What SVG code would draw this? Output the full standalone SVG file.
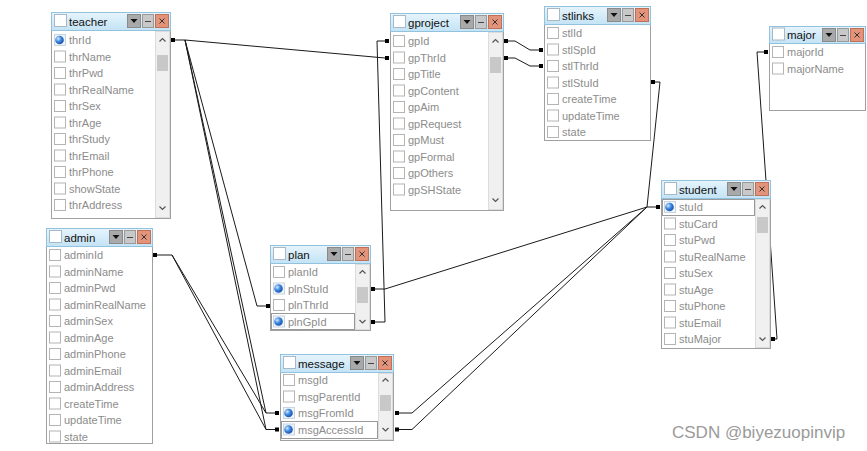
<svg xmlns="http://www.w3.org/2000/svg" xmlns:xlink="http://www.w3.org/1999/xlink" width="867" height="451" viewBox="0 0 867 451">
<style>
.body{fill:#fff;stroke:#a0a0a0}
.tb{fill:url(#tg);stroke:#93c2de}
.tcb{fill:#fff;stroke:#a8b8c4}
.cb{fill:#fff;stroke:#b4b4b4}
.tt{font-family:"Liberation Sans",Arial,sans-serif;font-size:11.5px;fill:#111}
.ft{font-family:"Liberation Sans",Arial,sans-serif;font-size:11px;fill:#8c8c8c}
.sb{fill:#f0f0f0;stroke:#dcdcdc}
.th{fill:#c8c8c8}
.chev{fill:none;stroke:#555;stroke-width:1.2}
.foc{fill:none;stroke:#333;stroke-dasharray:1,1}
.cn path{fill:none;stroke:#1a1a1a;stroke-width:1}
.mk{fill:#000}
.wm{font-family:"Liberation Sans",Arial,sans-serif;font-size:17px;fill:#9a9a9a}
</style>
<defs>
<linearGradient id="tg" x1="0" y1="0" x2="0" y2="1"><stop offset="0" stop-color="#e6f4fc"/><stop offset="1" stop-color="#c3e3f5"/></linearGradient>
<radialGradient id="kg" cx="0.35" cy="0.35" r="0.7"><stop offset="0" stop-color="#d6ebff"/><stop offset="0.5" stop-color="#3a86e0"/><stop offset="1" stop-color="#1a4fa8"/></radialGradient>
<g id="btns">
<rect x="0.5" y="0.5" width="13" height="13" fill="#a9a9a9" stroke="#8a8a8a"/>
<path d="M3.5,5 H10.5 L7,9 Z" fill="#111"/>
<rect x="15.5" y="0.5" width="11" height="13" fill="#c8c8c8" stroke="#9a9a9a"/>
<path d="M18,7.5 H24" stroke="#444"/>
<rect x="28.5" y="0.5" width="13" height="13" fill="#e3937a" stroke="#c07055"/>
<path d="M32.5,4.5 L37.5,9.5 M37.5,4.5 L32.5,9.5" stroke="#333"/>
</g>
<rect id="cb" class="cb" x="3.5" y="-5.5" width="11" height="11"/>
<g id="key"><rect x="3.5" y="-5.5" width="11" height="11" fill="#eef4fb" stroke="#c8d4e0"/><circle cx="8.5" cy="0" r="4.3" fill="url(#kg)"/></g>
<path id="up" class="chev" d="M-3,1.5 L0,-1.5 L3,1.5"/>
<path id="dn" class="chev" d="M-3,-1.5 L0,1.5 L3,-1.5"/>
<rect id="tcb" class="tcb" x="3.5" y="2.5" width="12" height="12"/>
</defs>

<g id="connectors" class="cn">
<path d="M175,40 H185 L385,58"/>
<path d="M185,40 L257,306 H266"/>
<path d="M185,40 L266,413 H275"/>
<path d="M185,40 L266,429.5 H275"/>
<path d="M157,255 H172 L266,413"/>
<path d="M172,255 L266,429.5"/>
<path d="M375,322 H385 L377,41 H385"/>
<path d="M375,289 H385 L647,207 H656"/>
<path d="M399,413 H412 L647,207"/>
<path d="M399,429.5 H412 L647,207"/>
<path d="M508,41 H515 L530,50 H539"/>
<path d="M508,58 H515 L530,66 H539"/>
<path d="M655,82 H660 L647,207"/>
<path d="M764,52 H757 L777,339 H775"/>
<g class="mk">
<rect x="171" y="38" width="4" height="4"/>
<rect x="385" y="56" width="4" height="4"/>
<rect x="385" y="39" width="4" height="4"/>
<rect x="266" y="304" width="4" height="4"/>
<rect x="275" y="411" width="4" height="4"/>
<rect x="275" y="427.5" width="4" height="4"/>
<rect x="153" y="253" width="4" height="4"/>
<rect x="371" y="287" width="4" height="4"/>
<rect x="371" y="320" width="4" height="4"/>
<rect x="395" y="411" width="4" height="4"/>
<rect x="395" y="427.5" width="4" height="4"/>
<rect x="504" y="39" width="4" height="4"/>
<rect x="504" y="56" width="4" height="4"/>
<rect x="539" y="48" width="4" height="4"/>
<rect x="539" y="64" width="4" height="4"/>
<rect x="651" y="80" width="4" height="4"/>
<rect x="656" y="205" width="4" height="4"/>
<rect x="771" y="337" width="4" height="4"/>
<rect x="764" y="50" width="4" height="4"/>
</g>
</g>

<g id="teacher" transform="translate(51,12)">
<rect class="body" x="0.5" y="0.5" width="119" height="206"/>
<rect class="tb" x="0.5" y="0.5" width="119" height="18"/>
<use href="#tcb"/>
<text class="tt" x="18" y="13.5">teacher</text>
<use href="#btns" x="76" y="2"/>
<rect class="sb" x="104.5" y="19.5" width="14" height="186"/>
<use href="#up" x="111.5" y="28"/>
<rect class="th" x="106" y="43" width="11" height="16"/>
<use href="#dn" x="111.5" y="196"/>
<g transform="translate(0,28)"><use href="#key"/><text class="ft" x="18" y="4">thrId</text></g>
<g transform="translate(0,44.5)"><use href="#cb"/><text class="ft" x="18" y="4">thrName</text></g>
<g transform="translate(0,61)"><use href="#cb"/><text class="ft" x="18" y="4">thrPwd</text></g>
<g transform="translate(0,77.5)"><use href="#cb"/><text class="ft" x="18" y="4">thrRealName</text></g>
<g transform="translate(0,94)"><use href="#cb"/><text class="ft" x="18" y="4">thrSex</text></g>
<g transform="translate(0,110.5)"><use href="#cb"/><text class="ft" x="18" y="4">thrAge</text></g>
<g transform="translate(0,127)"><use href="#cb"/><text class="ft" x="18" y="4">thrStudy</text></g>
<g transform="translate(0,143.5)"><use href="#cb"/><text class="ft" x="18" y="4">thrEmail</text></g>
<g transform="translate(0,160)"><use href="#cb"/><text class="ft" x="18" y="4">thrPhone</text></g>
<g transform="translate(0,176.5)"><use href="#cb"/><text class="ft" x="18" y="4">showState</text></g>
<g transform="translate(0,193)"><use href="#cb"/><text class="ft" x="18" y="4">thrAddress</text></g>
</g>

<g id="admin" transform="translate(46,228)">
<rect class="body" x="0.5" y="0.5" width="106" height="215"/>
<rect class="tb" x="0.5" y="0.5" width="106" height="18"/>
<use href="#tcb"/>
<text class="tt" x="18" y="13.5">admin</text>
<use href="#btns" x="63" y="2"/>
<g transform="translate(0,27)"><use href="#cb"/><text class="ft" x="18" y="4">adminId</text></g>
<g transform="translate(0,43.5)"><use href="#cb"/><text class="ft" x="18" y="4">adminName</text></g>
<g transform="translate(0,60)"><use href="#cb"/><text class="ft" x="18" y="4">adminPwd</text></g>
<g transform="translate(0,76.5)"><use href="#cb"/><text class="ft" x="18" y="4">adminRealName</text></g>
<g transform="translate(0,93)"><use href="#cb"/><text class="ft" x="18" y="4">adminSex</text></g>
<g transform="translate(0,109.5)"><use href="#cb"/><text class="ft" x="18" y="4">adminAge</text></g>
<g transform="translate(0,126)"><use href="#cb"/><text class="ft" x="18" y="4">adminPhone</text></g>
<g transform="translate(0,142.5)"><use href="#cb"/><text class="ft" x="18" y="4">adminEmail</text></g>
<g transform="translate(0,159)"><use href="#cb"/><text class="ft" x="18" y="4">adminAddress</text></g>
<g transform="translate(0,175.5)"><use href="#cb"/><text class="ft" x="18" y="4">createTime</text></g>
<g transform="translate(0,192)"><use href="#cb"/><text class="ft" x="18" y="4">updateTime</text></g>
<g transform="translate(0,208.5)"><use href="#cb"/><text class="ft" x="18" y="4">state</text></g>
</g>

<g id="plan" transform="translate(270,245)">
<rect class="body" x="0.5" y="0.5" width="100" height="85"/>
<rect class="tb" x="0.5" y="0.5" width="100" height="18"/>
<use href="#tcb"/>
<text class="tt" x="18" y="13.5">plan</text>
<use href="#btns" x="57" y="2"/>
<rect class="sb" x="85.5" y="19.5" width="14" height="65"/>
<use href="#up" x="92.5" y="27"/>
<rect class="th" x="87" y="42" width="11" height="16"/>
<use href="#dn" x="92.5" y="76.5"/>
<g transform="translate(0,27)"><use href="#cb"/><text class="ft" x="18" y="4">planId</text></g>
<g transform="translate(0,43.5)"><use href="#key"/><text class="ft" x="18" y="4">plnStuId</text></g>
<g transform="translate(0,60)"><use href="#cb"/><text class="ft" x="18" y="4">plnThrId</text></g>
<g transform="translate(0,76.5)"><use href="#key"/><text class="ft" x="18" y="4">plnGpId</text></g>
<rect class="foc" x="1.5" y="68.5" width="83" height="16"/>
</g>

<g id="message" transform="translate(280,354)">
<rect class="body" x="0.5" y="0.5" width="113" height="86"/>
<rect class="tb" x="0.5" y="0.5" width="113" height="18"/>
<use href="#tcb"/>
<text class="tt" x="18" y="13.5">message</text>
<use href="#btns" x="70" y="2"/>
<rect class="sb" x="98.5" y="19.5" width="14" height="66"/>
<use href="#up" x="105.5" y="26"/>
<rect class="th" x="100" y="41" width="11" height="16"/>
<use href="#dn" x="105.5" y="75.5"/>
<g transform="translate(0,26)"><use href="#cb"/><text class="ft" x="18" y="4">msgId</text></g>
<g transform="translate(0,42.5)"><use href="#cb"/><text class="ft" x="18" y="4">msgParentId</text></g>
<g transform="translate(0,59)"><use href="#key"/><text class="ft" x="18" y="4">msgFromId</text></g>
<g transform="translate(0,75.5)"><use href="#key"/><text class="ft" x="18" y="4">msgAccessId</text></g>
<rect class="foc" x="1.5" y="67.5" width="96" height="17"/>
</g>

<g id="gproject" transform="translate(390,13)">
<rect class="body" x="0.5" y="0.5" width="113" height="197"/>
<rect class="tb" x="0.5" y="0.5" width="113" height="18"/>
<use href="#tcb"/>
<text class="tt" x="18" y="13.5">gproject</text>
<use href="#btns" x="70" y="2"/>
<rect class="sb" x="98.5" y="19.5" width="14" height="177"/>
<use href="#up" x="105.5" y="28"/>
<rect class="th" x="100" y="44" width="11" height="16"/>
<use href="#dn" x="105.5" y="187"/>
<g transform="translate(0,28)"><use href="#cb"/><text class="ft" x="18" y="4">gpId</text></g>
<g transform="translate(0,44.5)"><use href="#cb"/><text class="ft" x="18" y="4">gpThrId</text></g>
<g transform="translate(0,61)"><use href="#cb"/><text class="ft" x="18" y="4">gpTitle</text></g>
<g transform="translate(0,77.5)"><use href="#cb"/><text class="ft" x="18" y="4">gpContent</text></g>
<g transform="translate(0,94)"><use href="#cb"/><text class="ft" x="18" y="4">gpAim</text></g>
<g transform="translate(0,110.5)"><use href="#cb"/><text class="ft" x="18" y="4">gpRequest</text></g>
<g transform="translate(0,127)"><use href="#cb"/><text class="ft" x="18" y="4">gpMust</text></g>
<g transform="translate(0,143.5)"><use href="#cb"/><text class="ft" x="18" y="4">gpFormal</text></g>
<g transform="translate(0,160)"><use href="#cb"/><text class="ft" x="18" y="4">gpOthers</text></g>
<g transform="translate(0,176.5)"><use href="#cb"/><text class="ft" x="18" y="4">gpSHState</text></g>
</g>

<g id="stlinks" transform="translate(544,6)">
<rect class="body" x="0.5" y="0.5" width="106" height="134"/>
<rect class="tb" x="0.5" y="0.5" width="106" height="18"/>
<use href="#tcb"/>
<text class="tt" x="18" y="13.5">stlinks</text>
<use href="#btns" x="63" y="2"/>
<g transform="translate(0,27)"><use href="#cb"/><text class="ft" x="18" y="4">stlId</text></g>
<g transform="translate(0,43.5)"><use href="#cb"/><text class="ft" x="18" y="4">stlSpId</text></g>
<g transform="translate(0,60)"><use href="#cb"/><text class="ft" x="18" y="4">stlThrId</text></g>
<g transform="translate(0,76.5)"><use href="#cb"/><text class="ft" x="18" y="4">stlStuId</text></g>
<g transform="translate(0,93)"><use href="#cb"/><text class="ft" x="18" y="4">createTime</text></g>
<g transform="translate(0,109.5)"><use href="#cb"/><text class="ft" x="18" y="4">updateTime</text></g>
<g transform="translate(0,126)"><use href="#cb"/><text class="ft" x="18" y="4">state</text></g>
</g>

<g id="major" transform="translate(769,26)">
<rect class="body" x="0.5" y="0.5" width="96" height="84"/>
<rect class="tb" x="0.5" y="0.5" width="96" height="17"/>
<use href="#tcb" y="-0.5"/>
<text class="tt" x="18" y="13">major</text>
<use href="#btns" x="53" y="2"/>
<g transform="translate(0,26)"><use href="#cb"/><text class="ft" x="18" y="4">majorId</text></g>
<g transform="translate(0,42.5)"><use href="#cb"/><text class="ft" x="18" y="4">majorName</text></g>
</g>

<g id="student" transform="translate(661,180)">
<rect class="body" x="0.5" y="0.5" width="109" height="168"/>
<rect class="tb" x="0.5" y="0.5" width="109" height="18"/>
<use href="#tcb"/>
<text class="tt" x="18" y="13.5">student</text>
<use href="#btns" x="66" y="2"/>
<rect class="sb" x="94.5" y="19.5" width="14" height="148"/>
<use href="#up" x="101.5" y="27"/>
<rect class="th" x="96" y="37" width="11" height="16"/>
<use href="#dn" x="101.5" y="159"/>
<g transform="translate(0,27)"><use href="#key"/><text class="ft" x="18" y="4">stuId</text></g>
<g transform="translate(0,43.5)"><use href="#cb"/><text class="ft" x="18" y="4">stuCard</text></g>
<g transform="translate(0,60)"><use href="#cb"/><text class="ft" x="18" y="4">stuPwd</text></g>
<g transform="translate(0,76.5)"><use href="#cb"/><text class="ft" x="18" y="4">stuRealName</text></g>
<g transform="translate(0,93)"><use href="#cb"/><text class="ft" x="18" y="4">stuSex</text></g>
<g transform="translate(0,109.5)"><use href="#cb"/><text class="ft" x="18" y="4">stuAge</text></g>
<g transform="translate(0,126)"><use href="#cb"/><text class="ft" x="18" y="4">stuPhone</text></g>
<g transform="translate(0,142.5)"><use href="#cb"/><text class="ft" x="18" y="4">stuEmail</text></g>
<g transform="translate(0,159)"><use href="#cb"/><text class="ft" x="18" y="4">stuMajor</text></g>
<rect class="foc" x="1.5" y="19.5" width="92" height="16"/>
</g>

<text class="wm" x="672" y="438">CSDN @biyezuopinvip</text>
</svg>
